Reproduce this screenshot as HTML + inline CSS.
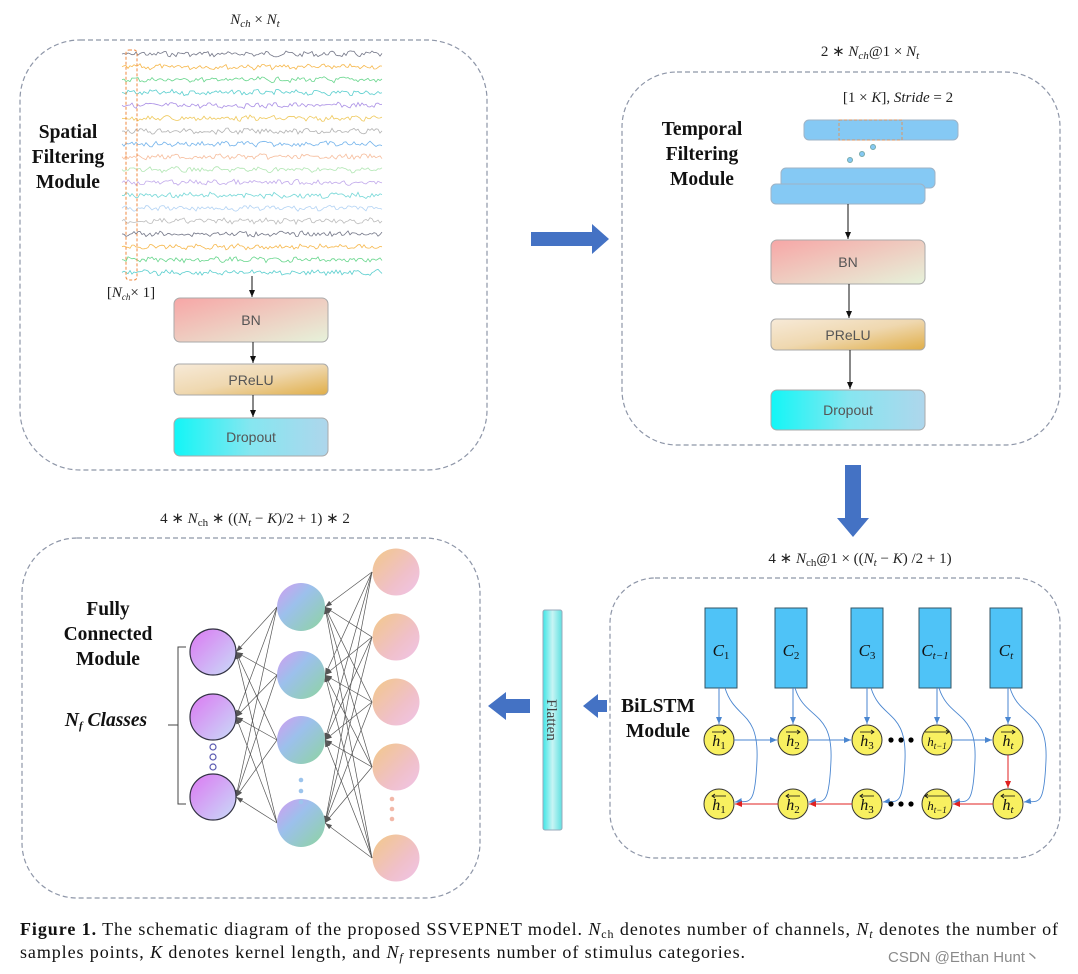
<!DOCTYPE html>
<html><head><meta charset="utf-8">
<style>
html,body{margin:0;padding:0;background:#fff;width:1078px;height:974px;overflow:hidden}
svg{display:block}
.t{font-family:"Liberation Serif",serif;font-weight:bold;font-size:19.5px;fill:#111;text-anchor:middle}
.m{font-family:"Liberation Serif",serif;font-size:15px;fill:#222;text-anchor:middle}
.b{font-family:"Liberation Sans",sans-serif;font-size:14px;fill:#555;text-anchor:middle}
.cap{font-family:"Liberation Serif",serif;font-size:18px;fill:#111}
</style></head><body>
<svg id="s" width="1078" height="974" xmlns="http://www.w3.org/2000/svg">
<defs>
<linearGradient id="gbn" x1="0" y1="0" x2="1" y2="1"><stop offset="0" stop-color="#f7a6a6"/><stop offset="1" stop-color="#e6f2da"/></linearGradient>
<linearGradient id="gpr" x1="0" y1="0" x2="1" y2="1"><stop offset="0" stop-color="#f7ead8"/><stop offset="0.5" stop-color="#efd8b0"/><stop offset="1" stop-color="#e0ae48"/></linearGradient>
<linearGradient id="gdr" x1="0" y1="0" x2="1" y2="0"><stop offset="0" stop-color="#12f6f6"/><stop offset="0.5" stop-color="#86e6f0"/><stop offset="1" stop-color="#aed6ec"/></linearGradient>
<linearGradient id="gfl" x1="0" y1="0" x2="1" y2="0"><stop offset="0" stop-color="#3ee6e6"/><stop offset="0.5" stop-color="#c8f4f4"/><stop offset="1" stop-color="#5ee0e0"/></linearGradient>
<linearGradient id="gout" x1="0" y1="0" x2="1" y2="1"><stop offset="0" stop-color="#dc78f2"/><stop offset="1" stop-color="#c8dcf8"/></linearGradient>
<linearGradient id="ghid" x1="0" y1="0" x2="1" y2="1"><stop offset="0" stop-color="#d49cf0"/><stop offset="0.4" stop-color="#9cc0ec"/><stop offset="1" stop-color="#8ed4a0"/></linearGradient>
<linearGradient id="gin" x1="0" y1="0" x2="1" y2="1"><stop offset="0" stop-color="#f2c888"/><stop offset="0.6" stop-color="#f0c0c8"/><stop offset="1" stop-color="#f0c4e8"/></linearGradient>
<marker id="ak" markerWidth="8" markerHeight="8" refX="7" refY="4" orient="auto" markerUnits="userSpaceOnUse"><path d="M0,1 L7,4 L0,7z" fill="#111"/></marker>
<marker id="ag" markerWidth="8" markerHeight="8" refX="7" refY="4" orient="auto" markerUnits="userSpaceOnUse"><path d="M0,1.5 L7,4 L0,6.5z" fill="#555"/></marker>
<marker id="ab" markerWidth="8" markerHeight="8" refX="7" refY="4" orient="auto" markerUnits="userSpaceOnUse"><path d="M0,1 L7,4 L0,7z" fill="#4a86d0"/></marker>
<marker id="ar" markerWidth="8" markerHeight="8" refX="7" refY="4" orient="auto" markerUnits="userSpaceOnUse"><path d="M0,1 L7,4 L0,7z" fill="#e02020"/></marker>
</defs>
<g fill="none" stroke="#8e96a8" stroke-width="1.2" stroke-dasharray="5,3">
<rect x="20" y="40" width="467" height="430" rx="60"/>
<rect x="622" y="72" width="438" height="373" rx="55"/>
<rect x="610" y="578" width="450" height="280" rx="45"/>
<rect x="22" y="538" width="458" height="360" rx="55"/>
</g>
<text class="m" x="255" y="24" font-style="italic">N<tspan font-size="11" dy="3">ch</tspan><tspan dy="-3" font-style="normal"> × </tspan>N<tspan font-size="11" dy="3">t</tspan></text>
<text class="m" x="870" y="56">2 ∗ <tspan font-style="italic">N</tspan><tspan font-size="11" dy="3" font-style="italic">ch</tspan><tspan dy="-3">@1 × </tspan><tspan font-style="italic">N</tspan><tspan font-size="11" dy="3" font-style="italic">t</tspan></text>
<text class="m" x="898" y="102">[1 × <tspan font-style="italic">K</tspan>], <tspan font-style="italic">Stride</tspan> = 2</text>
<text class="m" x="860" y="563">4 ∗ <tspan font-style="italic">N</tspan><tspan font-size="11" dy="3">ch</tspan><tspan dy="-3">@1 × ((</tspan><tspan font-style="italic">N</tspan><tspan font-size="11" dy="3" font-style="italic">t</tspan><tspan dy="-3"> − </tspan><tspan font-style="italic">K</tspan>) /2 + 1)</text>
<text class="m" x="255" y="523">4 ∗ <tspan font-style="italic">N</tspan><tspan font-size="11" dy="3">ch</tspan><tspan dy="-3"> ∗ ((</tspan><tspan font-style="italic">N</tspan><tspan font-size="11" dy="3" font-style="italic">t</tspan><tspan dy="-3"> − </tspan><tspan font-style="italic">K</tspan>)/2 + 1) ∗ 2</text>
<text class="t" x="68" y="138">Spatial</text><text class="t" x="68" y="163">Filtering</text><text class="t" x="68" y="188">Module</text>
<text class="t" x="702" y="135">Temporal</text><text class="t" x="702" y="160">Filtering</text><text class="t" x="702" y="185">Module</text>
<text class="t" x="658" y="712">BiLSTM</text><text class="t" x="658" y="737">Module</text>
<text class="t" x="108" y="615">Fully</text><text class="t" x="108" y="640">Connected</text><text class="t" x="108" y="665">Module</text>
<text class="t" x="106" y="726" font-style="italic" font-size="17">N<tspan font-size="11" dy="3">f</tspan><tspan dy="-3"> Classes</tspan></text>
<g id="waves"></g>
<rect x="126" y="50" width="11" height="230" rx="3" fill="none" stroke="#f08a40" stroke-dasharray="3,2" stroke-width="1"/>
<text class="m" x="131" y="297" font-size="13">[<tspan font-style="italic">N</tspan><tspan font-size="9" dy="3" font-style="italic">ch</tspan><tspan dy="-3">× 1]</tspan></text>
<line x1="252" y1="276" x2="252" y2="297" stroke="#111" marker-end="url(#ak)"/>
<rect x="174" y="298" width="154" height="44" rx="6" fill="url(#gbn)" stroke="#aaa"/>
<text class="b" x="251" y="325">BN</text>
<line x1="253" y1="342" x2="253" y2="363" stroke="#111" marker-end="url(#ak)"/>
<rect x="174" y="364" width="154" height="31" rx="5" fill="url(#gpr)" stroke="#aaa"/>
<text class="b" x="251" y="385">PReLU</text>
<line x1="253" y1="395" x2="253" y2="417" stroke="#111" marker-end="url(#ak)"/>
<rect x="174" y="418" width="154" height="38" rx="6" fill="url(#gdr)" stroke="#aaa"/>
<text class="b" x="251" y="442">Dropout</text>
<path d="M531,232 H592 V224 L609,239 L592,254 V246 H531 Z" fill="#4472c4"/>
<path d="M845,465 V518 H837 L853,537 L869,518 H861 V465 Z" fill="#4472c4"/>
<path d="M607,700 H598 V694 L583,706 L598,718 V712 H607 Z" fill="#4472c4"/>
<path d="M530,699 H506 V692 L488,706 L506,720 V713 H530 Z" fill="#4472c4"/>
<rect x="804" y="120" width="154" height="20" rx="5" fill="#85c9f4" stroke="#9fb3c6"/>
<rect x="839" y="120" width="63" height="20" fill="none" stroke="#f08a40" stroke-dasharray="3,2" stroke-width="0.8"/>
<circle cx="850" cy="160" r="2.5" fill="#85c9f4" stroke="#7aa"/><circle cx="862" cy="154" r="2.5" fill="#85c9f4" stroke="#7aa"/><circle cx="873" cy="147" r="2.5" fill="#85c9f4" stroke="#7aa"/>
<rect x="781" y="168" width="154" height="20" rx="5" fill="#85c9f4" stroke="#9fb3c6"/>
<rect x="771" y="184" width="154" height="20" rx="5" fill="#85c9f4" stroke="#9fb3c6"/>
<line x1="848" y1="204" x2="848" y2="239" stroke="#111" marker-end="url(#ak)"/>
<rect x="771" y="240" width="154" height="44" rx="6" fill="url(#gbn)" stroke="#aaa"/>
<text class="b" x="848" y="267">BN</text>
<line x1="849" y1="284" x2="849" y2="318" stroke="#111" marker-end="url(#ak)"/>
<rect x="771" y="319" width="154" height="31" rx="5" fill="url(#gpr)" stroke="#aaa"/>
<text class="b" x="848" y="340">PReLU</text>
<line x1="850" y1="350" x2="850" y2="389" stroke="#111" marker-end="url(#ak)"/>
<rect x="771" y="390" width="154" height="40" rx="6" fill="url(#gdr)" stroke="#aaa"/>
<text class="b" x="848" y="415">Dropout</text>
<rect x="543" y="610" width="19" height="220" rx="2" fill="url(#gfl)" stroke="#9ab"/>
<text x="552" y="720" font-family="Liberation Serif,serif" font-size="15" fill="#444" text-anchor="middle" transform="rotate(90 552 720)" dy="5">Flatten</text>
<g id="bil"></g>
<g id="fc"></g>
<text class="cap" x="20" y="935" textLength="1038" lengthAdjust="spacing"><tspan font-weight="bold">Figure 1.</tspan> The schematic diagram of the proposed SSVEPNET model. <tspan font-style="italic">N</tspan><tspan font-size="12" dy="3">ch</tspan><tspan dy="-3"> denotes number of channels, </tspan><tspan font-style="italic">N</tspan><tspan font-size="12" dy="3" font-style="italic">t</tspan><tspan dy="-3"> denotes the number of</tspan></text>
<text class="cap" x="20" y="958" textLength="725" lengthAdjust="spacing">samples points, <tspan font-style="italic">K</tspan> denotes kernel length, and <tspan font-style="italic">N</tspan><tspan font-size="12" dy="3" font-style="italic">f</tspan><tspan dy="-3"> represents number of stimulus categories.</tspan></text>
<text x="888" y="962" font-family="Liberation Sans,sans-serif" font-size="15" fill="#8a8a8a">CSDN @Ethan Hunt丶</text>
</svg>
<script>
var NS="http://www.w3.org/2000/svg";
function el(p,t,a){var e=document.createElementNS(NS,t);for(var k in a)e.setAttribute(k,a[k]);p.appendChild(e);return e;}
var cols=["#5a5e72","#f5aa2a","#4ccf78","#3cc6c6","#9b7be0","#ecc040","#a4a4a4","#5aa6e8","#f5b08a","#a2e2a4","#b69ae8","#5cd0d0","#a6cbf2","#b0b0b0","#5a5e72","#f5aa2a","#4ccf78","#3cc6c6"];
var seed=7;function r(){seed=(seed*9301+49297)%233280;return seed/233280;}
var W=document.getElementById("waves");
for(var i=0;i<18;i++){var y=54+i*12.85,d="M122,"+y.toFixed(1);
for(var x=124;x<=383;x+=2){d+=" L"+x+","+(y+(r()-0.5)*4.5+Math.sin(x*0.3+i)*1).toFixed(1);}
el(W,"path",{d:d,fill:"none",stroke:cols[i],"stroke-width":"0.8","stroke-opacity":"0.85"});}
var B=document.getElementById("bil");
var cx=[705,775,851,919,990],hx=[719,793,867,937,1008],fy=740,by=804,R=15;
var lab=["1","2","3","t−1","t"];
for(var i=0;i<5;i++){
 el(B,"rect",{x:cx[i],y:608,width:32,height:80,fill:"#4fc3f7",stroke:"#356","stroke-width":"1"});
 var t=el(B,"text",{x:cx[i]+16,y:656,"font-family":"Liberation Serif,serif","font-size":"17","font-style":"italic","text-anchor":"middle",fill:"#111"});t.textContent="C";
 var s=el(t,"tspan",{"font-size":"11",dy:"3","font-style":i<3?"normal":"italic"});s.textContent=lab[i];
 el(B,"line",{x1:hx[i],y1:688,x2:hx[i],y2:fy-R-1,stroke:"#4a86d0","marker-end":"url(#ab)"});
 el(B,"path",{d:"M"+(cx[i]+20)+",688 C"+(cx[i]+30)+",720 "+(hx[i]+40)+",710 "+(hx[i]+38)+",760 S"+(hx[i]+30)+",800 "+(hx[i]+R+1)+","+(by-2),fill:"none",stroke:"#4a86d0","stroke-width":"0.9","marker-end":"url(#ab)"});
 for(var k=0;k<2;k++){var yy=k?by:fy;
  el(B,"circle",{cx:hx[i],cy:yy,r:R,fill:"#f8f060",stroke:"#333"});
  var tt=el(B,"text",{x:hx[i],y:yy+6,"font-family":"Liberation Serif,serif","font-size":i==3?"13":"16","font-style":"italic","text-anchor":"middle",fill:"#111"});tt.textContent="h";
  var ss=el(tt,"tspan",{"font-size":i==3?"9":"11",dy:"3","font-style":i<3?"normal":"italic"});ss.textContent=lab[i];
  var w=i==3?12:7;
  el(B,"line",{x1:hx[i]-w,y1:yy-8,x2:hx[i]+w,y2:yy-8,stroke:"#111","stroke-width":"0.8"});
  el(B,"path",{d:k?("M"+(hx[i]-w+3)+","+(yy-10)+" L"+(hx[i]-w)+","+(yy-8)+" L"+(hx[i]-w+3)+","+(yy-6)):("M"+(hx[i]+w-3)+","+(yy-10)+" L"+(hx[i]+w)+","+(yy-8)+" L"+(hx[i]+w-3)+","+(yy-6)),fill:"none",stroke:"#111","stroke-width":"0.8"});
 }
}
[[0,1],[1,2],[3,4]].forEach(function(p){
 el(B,"line",{x1:hx[p[0]]+R,y1:fy,x2:hx[p[1]]-R-1,y2:fy,stroke:"#4a86d0","marker-end":"url(#ab)"});
 el(B,"line",{x1:hx[p[1]]-R,y1:by,x2:hx[p[0]]+R+1,y2:by,stroke:"#e02020","marker-end":"url(#ar)"});
});
el(B,"line",{x1:hx[4],y1:fy+R,x2:hx[4],y2:by-R-1,stroke:"#e02020","marker-end":"url(#ar)"});
[[891,fy],[901,fy],[911,fy],[891,by],[901,by],[911,by]].forEach(function(p){el(B,"circle",{cx:p[0],cy:p[1],r:2.6,fill:"#000"});});
var F=document.getElementById("fc");
var oy=[652,717,797],hy=[607,675,740,823],iy=[572,637,702,767,858];
iy.forEach(function(a){hy.forEach(function(b){el(F,"line",{x1:372,y1:a,x2:325,y2:b,stroke:"#555","stroke-width":"0.7","marker-end":"url(#ag)"});});});
hy.forEach(function(a){oy.forEach(function(b){el(F,"line",{x1:277,y1:a,x2:236,y2:b,stroke:"#555","stroke-width":"0.7","marker-end":"url(#ag)"});});});
oy.forEach(function(y){el(F,"circle",{cx:213,cy:y,r:23,fill:"url(#gout)",stroke:"#334","stroke-width":"1.2"});});
hy.forEach(function(y){el(F,"circle",{cx:301,cy:y,r:24,fill:"url(#ghid)"});});
iy.forEach(function(y){el(F,"circle",{cx:396,cy:y,r:23.5,fill:"url(#gin)"});});
[747,757,767].forEach(function(y){el(F,"circle",{cx:213,cy:y,r:3,fill:"none",stroke:"#5a5ab0","stroke-width":"1.2"});});
[780,791,802].forEach(function(y){el(F,"circle",{cx:301,cy:y,r:2.3,fill:"#9cc4ec"});});
[799,809,819].forEach(function(y){el(F,"circle",{cx:392,cy:y,r:2.3,fill:"#f2b8a8"});});
el(F,"path",{d:"M186,647 H178 V804 H186 M178,725 H168",fill:"none",stroke:"#444","stroke-width":"1"});
</script>
</body></html>
